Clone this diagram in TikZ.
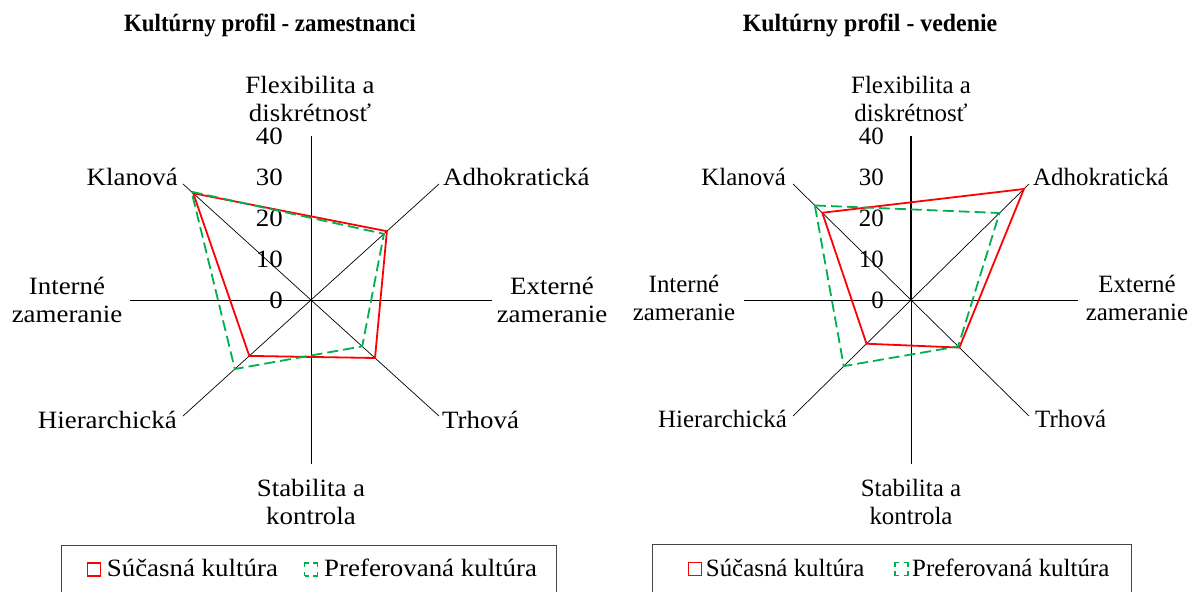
\documentclass[tikz,border=0pt]{standalone}
\usepackage{fontspec}
\setmainfont{Liberation Serif}
% slightly widened face for the left chart
\newfontfamily\widefam[FakeStretch=1.08]{Liberation Serif}
% slightly condensed bold faces for the chart titles
\newfontfamily\titlefamL[FakeStretch=0.92]{Liberation Serif}
\newfontfamily\titlefamR[FakeStretch=0.957]{Liberation Serif}
\usetikzlibrary{calc}
\definecolor{curred}{RGB}{255,0,0}
\definecolor{prefgreen}{RGB}{0,176,80}
\definecolor{framegray}{RGB}{70,70,70}

\begin{document}
\begin{tikzpicture}[x=1bp,y=-1bp,
  spoke/.style={draw=black,line width=0.7bp},
  mainspoke/.style={draw=black,line width=1.5bp},
  cur/.style={draw=curred,line width=1.8bp,line join=miter},
  pref/.style={draw=prefgreen,line width=1.8bp,dash pattern=on 11bp off 5bp},
  wlbl/.style={inner sep=0pt,align=center,font=\widefam\fontsize{25}{28.5}\selectfont},
  nlbl/.style={inner sep=0pt,align=center,font=\fontsize{25}{28.5}\selectfont},
  charttitle/.style={inner sep=0pt,font=#1\bfseries\fontsize{25}{25}\selectfont},
  legframe/.style={draw=framegray,line width=0.9bp},
  curkey/.style={draw=curred,line width=1.3bp,minimum size=13bp,inner sep=0pt},
  prefkey/.style={draw=prefgreen,line width=1.3bp,minimum size=13bp,inner sep=0pt,
    dash pattern=on 8.5bp off 4.5bp,dash phase=4.25bp},
]
\useasboundingbox (0,0) rectangle (1195,592);

%% ---------------- left chart: zamestnanci ----------------
\node[charttitle=\titlefamL,anchor=base] (Ltitle) at (270,32) {Kultúrny profil - zamestnanci};

\coordinate (Lc)  at (311,300);
\coordinate (Ln)  at (311,136);
\coordinate (Ls)  at (311,464);
\coordinate (Lw)  at (130,300);
\coordinate (Le)  at (492,300);
\coordinate (Lnw) at (183,184);
\coordinate (Lne) at (439,184);
\coordinate (Lse) at (439,416);
\coordinate (Lsw) at (183,416);

\foreach \v/\y in {0/300,10/259,20/218,30/177,40/136}
  \node[wlbl,anchor=east] (Lt\v) at (283,\y) {\v};

\foreach \d in {n,s,w,e,nw,ne,se,sw}
  \draw[spoke] (Lc) -- (L\d);

\node[wlbl,anchor=north]      (LaxN)  at (310,76)  {Flexibilita a\\diskrétnosť};
\node[wlbl,anchor=base east]  (LaxNW) at (178,186) {Klanová};
\node[wlbl,anchor=base west]  (LaxNE) at (443,186) {Adhokratická};
\node[wlbl,anchor=north]      (LaxW)  at (67,277)  {Interné\\zameranie};
\node[wlbl,anchor=north]      (LaxE)  at (552,277) {Externé\\zameranie};
\node[wlbl,anchor=base east]  (LaxSW) at (177,428) {Hierarchická};
\node[wlbl,anchor=base west]  (LaxSE) at (442,428) {Trhová};
\node[wlbl,anchor=north]      (LaxS)  at (311,479) {Stabilita a\\kontrola};

% current culture
\coordinate (Lr1) at ($(Lc)!0.92!(Lnw)$);
\coordinate (Lr2) at ($(Lc)!0.593!(Lne)$);
\coordinate (Lr3) at ($(Lc)!0.50!(Lse)$);
\coordinate (Lr4) at ($(Lc)!0.482!(Lsw)$);
\draw[cur] (Lr1) -- (Lr2) -- (Lr3) -- (Lr4) -- cycle;
% preferred culture
\coordinate (Lp1) at ($(Lc)!0.933!(Lnw)$);
\coordinate (Lp2) at ($(Lc)!0.57!(Lne)$);
\coordinate (Lp3) at ($(Lc)!0.40!(Lse)$);
\coordinate (Lp4) at ($(Lc)!0.595!(Lsw)$);
\draw[pref] (Lp1) -- (Lp2) -- (Lp3) -- (Lp4) -- cycle;

% legend
\draw[legframe] (61.7,545) rectangle (556.7,600);
\node[curkey]  (Lkc) at (93.8,569.4) {};
\node[wlbl,anchor=base west] (Lkct) at (106.7,576.7) {Súčasná kultúra};
\node[prefkey] (Lkp) at (311,569.4) {};
\node[wlbl,anchor=base west] (Lkpt) at (324,576.7) {Preferovaná kultúra};

%% ---------------- right chart: vedenie ----------------
\node[charttitle=\titlefamR,anchor=base] (Rtitle) at (870,32) {Kultúrny profil - vedenie};

\coordinate (Rc)  at (911,300);
\coordinate (Rn)  at (911,136);
\coordinate (Rs)  at (911,464);
\coordinate (Rw)  at (744,300);
\coordinate (Re)  at (1078,300);
\coordinate (Rnw) at (793,184);
\coordinate (Rne) at (1029,184);
\coordinate (Rse) at (1029,416);
\coordinate (Rsw) at (793,416);

\foreach \v/\y in {0/300,10/259,20/218,30/177,40/136}
  \node[nlbl,anchor=east] (Rt\v) at (884,\y) {\v};

\foreach \d in {s,w,e,nw,ne,se,sw}
  \draw[spoke] (Rc) -- (R\d);
\draw[mainspoke] (Rc) -- (Rn);

\node[nlbl,anchor=north]      (RaxN)  at (911,76)   {Flexibilita a\\diskrétnosť};
\node[nlbl,anchor=base east]  (RaxNW) at (786,186)  {Klanová};
\node[nlbl,anchor=base west]  (RaxNE) at (1033,186) {Adhokratická};
\node[nlbl,anchor=north]      (RaxW)  at (684,275)  {Interné\\zameranie};
\node[nlbl,anchor=north]      (RaxE)  at (1137,275) {Externé\\zameranie};
\node[nlbl,anchor=base east]  (RaxSW) at (787,427)  {Hierarchická};
\node[nlbl,anchor=base west]  (RaxSE) at (1035,427) {Trhová};
\node[nlbl,anchor=north]      (RaxS)  at (911,479)  {Stabilita a\\kontrola};

% current culture
\coordinate (Rr1) at ($(Rc)!0.752!(Rnw)$);
\coordinate (Rr2) at ($(Rc)!0.957!(Rne)$);
\coordinate (Rr3) at ($(Rc)!0.41!(Rse)$);
\coordinate (Rr4) at ($(Rc)!0.377!(Rsw)$);
\draw[cur] (Rr1) -- (Rr2) -- (Rr3) -- (Rr4) -- cycle;
% preferred culture
\coordinate (Rp1) at ($(Rc)!0.815!(Rnw)$);
\coordinate (Rp2) at ($(Rc)!0.75!(Rne)$);
\coordinate (Rp3) at ($(Rc)!0.40!(Rse)$);
\coordinate (Rp4) at ($(Rc)!0.57!(Rsw)$);
\draw[pref] (Rp1) -- (Rp2) -- (Rp3) -- (Rp4) -- cycle;

% legend
\draw[legframe] (652.3,544) rectangle (1131.7,600);
\node[curkey]  (Rkc) at (695.3,569) {};
\node[nlbl,anchor=base west] (Rkct) at (705.7,576) {Súčasná kultúra};
\node[prefkey] (Rkp) at (901.5,569) {};
\node[nlbl,anchor=base west] (Rkpt) at (912,576) {Preferovaná kultúra};
\end{tikzpicture}
\end{document}
